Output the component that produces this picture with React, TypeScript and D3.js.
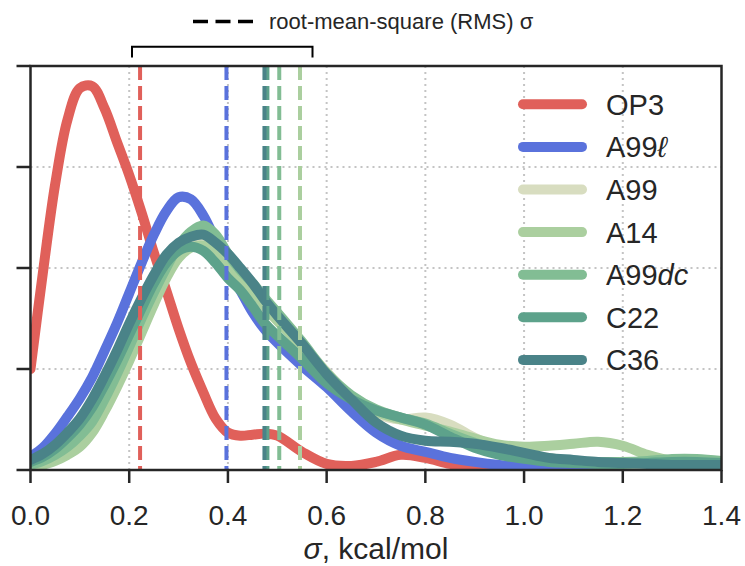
import React from 'react';
import * as d3 from 'd3';

const X_GRID = [
  0, 0.025, 0.05, 0.075, 0.1, 0.125, 0.15, 0.175, 0.2, 0.225, 0.25, 0.275, 0.3, 0.325, 0.35, 0.375, 0.4, 0.425, 0.45, 0.475, 0.5,
  0.55, 0.6, 0.65, 0.7, 0.75, 0.8, 0.85, 0.9, 0.95, 1.0, 1.05, 1.1, 1.15, 1.2, 1.25, 1.3, 1.35, 1.4,
];

const OP3 = [
  1.0, 1.95, 2.83, 3.47, 3.78, 3.8, 3.58, 3.25, 2.92, 2.55, 2.15, 1.78, 1.4, 1.06, 0.77, 0.51, 0.37, 0.34, 0.35, 0.36, 0.34,
  0.18, 0.06, 0.04, 0.08, 0.15, 0.12, 0.06, 0.02, 0.005, 0, 0, 0, 0, 0, 0, 0, 0, 0,
];
const A99L = [
  0.13, 0.22, 0.36, 0.53, 0.71, 0.92, 1.18, 1.45, 1.75, 2.05, 2.33, 2.56, 2.7, 2.68, 2.52, 2.27, 2.0, 1.78, 1.56, 1.39, 1.26,
  1.03, 0.82, 0.58, 0.37, 0.24, 0.18, 0.12, 0.08, 0.05, 0.03, 0.015, 0.005, 0, 0, 0, 0, 0, 0,
];
const A99 = [
  0.03, 0.06, 0.11, 0.18, 0.28, 0.42, 0.63, 0.88, 1.15, 1.42, 1.7, 1.95, 2.15, 2.26, 2.3, 2.22, 2.05, 1.9, 1.75, 1.6, 1.48,
  1.24, 0.97, 0.72, 0.56, 0.5, 0.52, 0.45, 0.32, 0.22, 0.16, 0.12, 0.09, 0.07, 0.06, 0.06, 0.06, 0.06, 0.06,
];
const A14 = [
  0.02, 0.05, 0.09, 0.15, 0.23, 0.37, 0.58, 0.82, 1.08, 1.36, 1.64, 1.9, 2.1, 2.2, 2.22, 2.15, 2.02, 1.9, 1.77, 1.62, 1.48,
  1.22, 0.94, 0.72, 0.58, 0.5, 0.44, 0.38, 0.31, 0.25, 0.23, 0.24, 0.26, 0.28, 0.24, 0.15, 0.09, 0.08, 0.08,
];
const A99DC = [
  0.05, 0.09, 0.15, 0.23, 0.34, 0.48, 0.7, 0.95, 1.22, 1.5, 1.76, 2.0, 2.22, 2.36, 2.42, 2.33, 2.14, 1.98, 1.85, 1.7, 1.56,
  1.27, 0.96, 0.74, 0.6, 0.52, 0.46, 0.36, 0.27, 0.2, 0.15, 0.11, 0.09, 0.08, 0.08, 0.09, 0.11, 0.11, 0.09,
];
const C22 = [
  0.08, 0.13, 0.21, 0.32, 0.45, 0.62, 0.84, 1.08, 1.34, 1.6, 1.85, 2.05, 2.17, 2.21, 2.17, 2.05, 1.9, 1.78, 1.62, 1.45, 1.33,
  1.1, 0.86, 0.7, 0.59, 0.52, 0.45, 0.33, 0.22, 0.15, 0.11, 0.08, 0.07, 0.06, 0.06, 0.07, 0.08, 0.08, 0.07,
];
const C36 = [
  0.1, 0.16, 0.25, 0.37, 0.51, 0.7, 0.93, 1.18, 1.45, 1.7, 1.93, 2.13, 2.25, 2.31, 2.33, 2.25, 2.14, 2.0, 1.85, 1.68, 1.53,
  1.25, 0.95, 0.7, 0.47, 0.34, 0.29, 0.28, 0.26, 0.22, 0.17, 0.12, 0.1, 0.08, 0.07, 0.06, 0.05, 0.05, 0.05,
];

const SERIES_KEYS = ['OP3', 'A99l', 'A99', 'A14', 'A99dc', 'C22', 'C36'];
const SERIES_VALUES = [OP3, A99L, A99, A14, A99DC, C22, C36];
const SERIES_COLORS = ['#e0605a', '#5a72dc', '#d8ddc0', '#abcf9f', '#82bd94', '#5da28b', '#4a8388'];
const LEGEND_BASE = ['OP3', 'A99', 'A99', 'A14', 'A99', 'C22', 'C36'];
const LEGEND_ITALIC = ['', 'ℓ', '', '', 'dc', '', ''];
const RMS = [0.222, 0.397, 0.476, 0.546, 0.504, 0.48, 0.474];

const X_TICKS = [0, 0.2, 0.4, 0.6, 0.8, 1.0, 1.2, 1.4];
const Y_TICKS = [0, 1, 2, 3, 4];

const W = 745;
const H = 566;
const M = { left: 30.5, right: 721.5, top: 66, bottom: 470 };
const AXIS = '#262626';
const FONT = '"Liberation Sans", Arial, Helvetica, sans-serif';

export default function App() {
  const x = d3.scaleLinear().domain([0, 1.4]).range([M.left, M.right]);
  const y = d3.scaleLinear().domain([0, 4]).range([M.bottom, M.top]);
  const line = d3
    .line<number>()
    .x((_, i) => x(X_GRID[i]))
    .y((d) => y(d))
    .curve(d3.curveCatmullRom.alpha(0.5));

  const legendY0 = 104.3;
  const legendStep = 42.6;

  return (
    <svg
      width={W}
      height={H}
      viewBox={`0 0 ${W} ${H}`}
      style={{ position: 'absolute', left: 0, top: 0, background: '#fff' }}
      fontFamily={FONT}
    >
      <defs>
        <clipPath id="plotClip">
          <rect x={M.left} y={M.top} width={M.right - M.left} height={M.bottom - M.top} />
        </clipPath>
      </defs>

      {/* grid */}
      <g stroke="#c4c4c4" strokeWidth={2} strokeDasharray="2,4">
        {X_TICKS.filter((t) => t > 0 && t < 1.4).map((t) => (
          <line key={'gx' + t} x1={x(t)} x2={x(t)} y1={M.top} y2={M.bottom} />
        ))}
        {Y_TICKS.filter((t) => t > 0 && t < 4).map((t) => (
          <line key={'gy' + t} x1={M.left} x2={M.right} y1={y(t)} y2={y(t)} />
        ))}
      </g>

      {/* curves */}
      <g clipPath="url(#plotClip)" fill="none" strokeLinejoin="round" strokeLinecap="round">
        {SERIES_VALUES.map((vals, i) => (
          <path key={SERIES_KEYS[i]} d={line(vals) || ''} stroke={SERIES_COLORS[i]} strokeWidth={10} />
        ))}
      </g>

      {/* RMS dashed lines */}
      <g clipPath="url(#plotClip)">
        {RMS.map((r, i) => (
          <line
            key={'rms' + i}
            x1={x(r)}
            x2={x(r)}
            y1={M.top}
            y2={M.bottom}
            stroke={SERIES_COLORS[i]}
            strokeWidth={4}
            strokeDasharray="14,6"
          />
        ))}
      </g>

      {/* frame */}
      <rect
        x={M.left}
        y={M.top}
        width={M.right - M.left}
        height={M.bottom - M.top}
        fill="none"
        stroke={AXIS}
        strokeWidth={2.5}
      />

      {/* y ticks */}
      <g stroke={AXIS} strokeWidth={2.5}>
        {Y_TICKS.map((t) => (
          <line key={'yt' + t} x1={M.left - 14} x2={M.left} y1={y(t)} y2={y(t)} />
        ))}
        {X_TICKS.map((t) => (
          <line key={'xt' + t} x1={x(t)} x2={x(t)} y1={M.bottom} y2={M.bottom + 13} />
        ))}
      </g>

      {/* x tick labels */}
      <g fill={AXIS} fontSize={28} textAnchor="middle">
        {X_TICKS.map((t) => (
          <text key={'xl' + t} x={x(t)} y={525}>
            {d3.format('.1f')(t)}
          </text>
        ))}
      </g>
      <text x={(M.left + M.right) / 2} y={559} fill={AXIS} fontSize={30} textAnchor="middle">
        <tspan fontStyle="italic">σ</tspan>, kcal/mol
      </text>

      {/* legend */}
      <g>
        {SERIES_KEYS.map((k, i) => {
          const ly = legendY0 + i * legendStep;
          return (
            <g key={'lg' + k}>
              <line
                x1={523}
                x2={582}
                y1={ly}
                y2={ly}
                stroke={SERIES_COLORS[i]}
                strokeWidth={10}
                strokeLinecap="round"
              />
              <text x={606} y={ly + 10.5} fontSize={29} fill={AXIS}>
                {LEGEND_BASE[i]}
                {LEGEND_ITALIC[i] ? <tspan fontStyle="italic">{LEGEND_ITALIC[i]}</tspan> : null}
              </text>
            </g>
          );
        })}
      </g>

      {/* top RMS legend */}
      <line x1={193} x2={253} y1={21.5} y2={21.5} stroke="#000" strokeWidth={3.5} strokeDasharray="15,7.5" />
      <text x={269} y={29} fontSize={22} fill={AXIS}>
        root-mean-square (RMS) σ
      </text>
      <path d="M132,57.5 V46.7 H312.5 V57.5" fill="none" stroke="#000" strokeWidth={2} />
    </svg>
  );
}
